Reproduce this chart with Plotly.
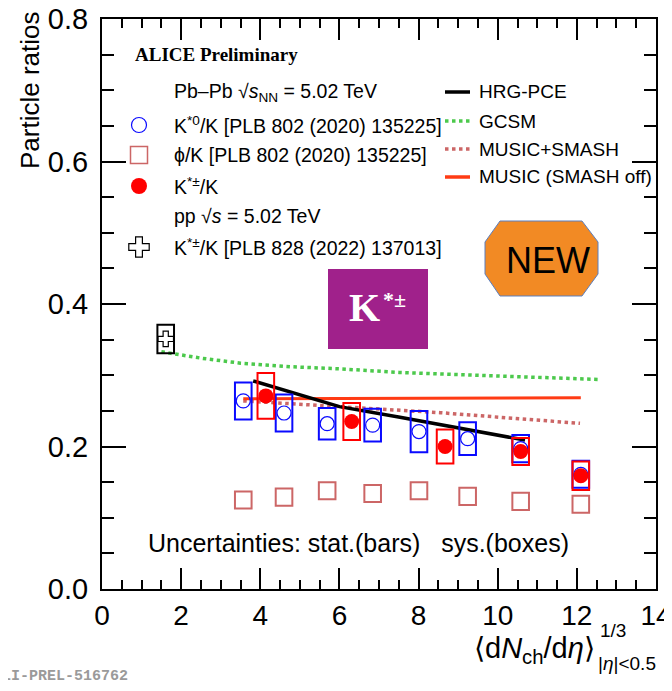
import plotly.graph_objects as go

# ---------------- data ----------------
cent_x = [3.57, 4.60, 5.69, 6.84, 8.01, 9.24, 10.58, 12.10]
kstar0_y = [0.264, 0.247, 0.232, 0.230, 0.221, 0.211, 0.197, 0.161]
kstar0_sys = [0.026, 0.026, 0.022, 0.023, 0.029, 0.023, 0.019, 0.019]

phi_y = [0.125, 0.129, 0.138, 0.134, 0.138, 0.130, 0.123, 0.119]
phi_sys = [0.012, 0.012, 0.012, 0.012, 0.012, 0.012, 0.012, 0.012]

kpm_x = [4.14, 6.31, 8.67, 10.58, 12.10]
kpm_y = [0.271, 0.235, 0.200, 0.193, 0.159]
kpm_sys = [0.032, 0.026, 0.024, 0.019, 0.020]

pp_x = [1.61]
pp_y = [0.351]
pp_sys = [0.020]

hrg_x = [3.82, 5.0, 6.0, 7.53, 9.21, 10.69]
hrg_y = [0.292, 0.272, 0.256, 0.241, 0.2245, 0.209]

gcsm_x = [1.5, 2.5, 3.5, 4.75, 6.0, 7.5, 10.0, 12.58]
gcsm_y = [0.333, 0.324, 0.317, 0.312, 0.309, 0.304, 0.299, 0.294]

msmash_x = [3.57, 6.01, 7.53, 8.54, 10.06, 12.08]
msmash_y = [0.264, 0.256, 0.251, 0.2475, 0.241, 0.2325]

moff_x = [3.57, 12.10]
moff_y = [0.267, 0.2685]

BOX_HW = 0.21  # half width of systematic boxes (x units)

# ---------------- styling ----------------
BLUE = "#0a0aff"
RED = "#ff0000"
PINK = "#cc6666"
GREEN = "#4cc94c"
ORANGE_RED = "#ff3b14"
FONT = "Liberation Sans, Arial, sans-serif"

OFF = 8  # page body margin offset
W, H = 672 - OFF, 691 - OFF
# plot frame in page pixels
PL, PR, PT, PB = 102, 656, 19, 589
L, R, T, B = PL - OFF, PR - OFF, PT - OFF, PB - OFF


def px(x):  # page pixel -> paper fraction
    return (x - PL) / (PR - PL)


def py(y):
    return (PB - y) / (PB - PT)


fig = go.Figure()

# models
fig.add_trace(go.Scatter(x=gcsm_x, y=gcsm_y, mode="lines", line=dict(color=GREEN, width=3.5, dash="3.5px,3.5px"), showlegend=False))
fig.add_trace(go.Scatter(x=msmash_x, y=msmash_y, mode="lines", line=dict(color=PINK, width=3.5, dash="3.5px,3.5px"), showlegend=False))
fig.add_trace(go.Scatter(x=moff_x, y=moff_y, mode="lines", line=dict(color=ORANGE_RED, width=3), showlegend=False))
fig.add_trace(go.Scatter(x=hrg_x, y=hrg_y, mode="lines", line=dict(color="black", width=3.5), showlegend=False))

# systematic boxes
shapes = []


def add_boxes(xs, ys, ss, color, width=2):
    for x, y, s in zip(xs, ys, ss):
        shapes.append(dict(type="rect", xref="x", yref="y", x0=x - BOX_HW, x1=x + BOX_HW,
                           y0=y - s, y1=y + s, line=dict(color=color, width=width),
                           fillcolor="rgba(0,0,0,0)", layer="above"))


add_boxes(cent_x, phi_y, phi_sys, PINK)
add_boxes(cent_x, kstar0_y, kstar0_sys, BLUE)
add_boxes(kpm_x, kpm_y, kpm_sys, RED)
add_boxes(pp_x, pp_y, pp_sys, "black")

# points
fig.add_trace(go.Scatter(x=cent_x, y=kstar0_y, mode="markers",
                         marker=dict(symbol="circle-open", size=14, color=BLUE, line=dict(width=1.2)), showlegend=False))
fig.add_trace(go.Scatter(x=kpm_x, y=kpm_y, mode="markers",
                         marker=dict(symbol="circle", size=15, color=RED), showlegend=False))
fig.add_trace(go.Scatter(x=pp_x, y=pp_y, mode="markers",
                         marker=dict(symbol="cross-open", size=13, color="black", line=dict(width=1.2)), showlegend=False))

# legend symbols on an overlay axis in [0,1]
leg_x = px(139)
fig.add_trace(go.Scatter(x=[leg_x], y=[py(125)], xaxis="x2", yaxis="y2", mode="markers",
                         marker=dict(symbol="circle-open", size=15, color=BLUE, line=dict(width=1.2)), showlegend=False))
fig.add_trace(go.Scatter(x=[leg_x], y=[py(155)], xaxis="x2", yaxis="y2", mode="markers",
                         marker=dict(symbol="square-open", size=17, color=PINK, line=dict(width=1.5)), showlegend=False))
fig.add_trace(go.Scatter(x=[leg_x], y=[py(186)], xaxis="x2", yaxis="y2", mode="markers",
                         marker=dict(symbol="circle", size=16, color=RED), showlegend=False))
fig.add_trace(go.Scatter(x=[leg_x], y=[py(247)], xaxis="x2", yaxis="y2", mode="markers",
                         marker=dict(symbol="cross-open", size=17, color="black", line=dict(width=1.2)), showlegend=False))

right_items = [
    ("HRG-PCE", 92, dict(color="black", width=3.5)),
    ("GCSM", 121, dict(color=GREEN, width=3.5, dash="3.5px,3.5px")),
    ("MUSIC+SMASH", 149, dict(color=PINK, width=3.5, dash="3.5px,3.5px")),
    ("MUSIC (SMASH off)", 177, dict(color=ORANGE_RED, width=3.5)),
]
annotations = []
for label, yy, ln in right_items:
    fig.add_trace(go.Scatter(x=[px(445), px(470)], y=[py(yy), py(yy)], xaxis="x2", yaxis="y2",
                             mode="lines", line=ln, showlegend=False))
    annotations.append(dict(x=px(477), y=py(yy), xref="paper", yref="paper", text=label,
                            showarrow=False, xanchor="left", yanchor="middle",
                            font=dict(family=FONT, size=19, color="black")))

left_items = [
    ("Pb–Pb √<i>s</i><sub>NN</sub> = 5.02 TeV", 93),
    ("K<sup>*0</sup>/K [PLB 802 (2020) 135225]", 125),
    ("ϕ/K [PLB 802 (2020) 135225]", 155),
    ("K<sup>*±</sup>/K", 186),
    ("pp √<i>s</i> = 5.02 TeV", 216),
    ("K<sup>*±</sup>/K [PLB 828 (2022) 137013]", 247),
]
for label, yy in left_items:
    annotations.append(dict(x=px(172), y=py(yy), xref="paper", yref="paper", text=label,
                            showarrow=False, xanchor="left", yanchor="middle",
                            font=dict(family=FONT, size=19.5, color="black")))

annotations.append(dict(x=px(133), y=py(55), xref="paper", yref="paper", text="<b>ALICE Preliminary</b>",
                        showarrow=False, xanchor="left", yanchor="middle",
                        font=dict(family="Liberation Serif, Times New Roman, serif", size=19, color="black")))

annotations.append(dict(x=px(358), y=py(543), xref="paper", yref="paper",
                        text="Uncertainties: stat.(bars)   sys.(boxes)",
                        showarrow=False, xanchor="center", yanchor="middle",
                        font=dict(family=FONT, size=25, color="black")))

# purple K*± badge
shapes.append(dict(type="rect", xref="paper", yref="paper", x0=px(328), x1=px(428), y0=py(349), y1=py(269),
                   fillcolor="#a0218b", line=dict(width=0), layer="above"))
annotations.append(dict(x=px(364), y=py(307), xref="paper", yref="paper", text="<b>K</b>",
                        showarrow=False, xanchor="center", yanchor="middle",
                        font=dict(family="Liberation Serif, Times New Roman, serif", size=40, color="white")))
annotations.append(dict(x=px(394), y=py(299), xref="paper", yref="paper", text="<b>*±</b>",
                        showarrow=False, xanchor="center", yanchor="middle",
                        font=dict(family="Liberation Serif, Times New Roman, serif", size=22, color="white")))

# NEW octagon
oct_pts = [(500, 221), (582, 221), (598, 242), (598, 274), (582, 296), (500, 296), (485, 274), (485, 242)]
path = "M " + " L ".join(f"{px(a):.5f},{py(b):.5f}" for a, b in oct_pts) + " Z"
shapes.append(dict(type="path", xref="paper", yref="paper", path=path, fillcolor="#f28a24",
                   line=dict(color="#5b7fbf", width=1), layer="above"))
annotations.append(dict(x=px(548), y=py(260), xref="paper", yref="paper", text="NEW",
                        showarrow=False, xanchor="center", yanchor="middle",
                        font=dict(family=FONT, size=36, color="black")))

# axis titles
annotations.append(dict(x=px(30), y=py(90), xref="paper", yref="paper", text="Particle ratios",
                        showarrow=False, textangle=-90, xanchor="center", yanchor="middle",
                        font=dict(family=FONT, size=26, color="black")))
annotations.append(dict(x=px(597), y=py(650), xref="paper", yref="paper",
                        text="⟨d<i>N</i><sub>ch</sub>/d<i>η</i>⟩",
                        showarrow=False, xanchor="right", yanchor="middle",
                        font=dict(family=FONT, size=29, color="black")))
annotations.append(dict(x=px(598), y=py(630), xref="paper", yref="paper", text="1/3",
                        showarrow=False, xanchor="left", yanchor="middle",
                        font=dict(family=FONT, size=19, color="black")))
annotations.append(dict(x=px(596), y=py(663), xref="paper", yref="paper", text="|<i>η</i>|&lt;0.5",
                        showarrow=False, xanchor="left", yanchor="middle",
                        font=dict(family=FONT, size=19, color="black")))

annotations.append(dict(x=px(130), y=py(676), xref="paper", yref="paper", text="<b>ALI-PREL-516762</b>",
                        showarrow=False, xanchor="right", yanchor="middle",
                        font=dict(family="Liberation Mono, Courier New, monospace", size=15, color="#9a9a9a")))

fig.update_layout(
    width=W, height=H,
    margin=dict(l=L, r=W - R, t=T, b=H - B, pad=0, autoexpand=False),
    paper_bgcolor="white", plot_bgcolor="white",
    showlegend=False,
    shapes=shapes, annotations=annotations,
    xaxis=dict(range=[0, 14], dtick=2, tick0=0, ticks="inside", ticklen=21, tickwidth=1.5, tickcolor="black",
               showline=True, linewidth=2, linecolor="black", mirror="allticks", showgrid=False, zeroline=False,
               automargin=False, ticklabeloverflow="allow",
               tickfont=dict(family=FONT, size=28, color="black"), ticklabelstandoff=0,
               minor=dict(ticks="inside", ticklen=9, dtick=0.5, tickwidth=1.5, tickcolor="black", showgrid=False)),
    yaxis=dict(range=[0, 0.8], dtick=0.2, tick0=0, ticks="inside", ticklen=24, tickwidth=1.5, tickcolor="black",
               showline=True, linewidth=2, linecolor="black", mirror="allticks", showgrid=False, zeroline=False,
               automargin=False, ticklabeloverflow="allow",
               tickformat=".1f", tickfont=dict(family=FONT, size=29, color="black"), ticklabelstandoff=6,
               minor=dict(ticks="inside", ticklen=12, dtick=0.05, tickwidth=1.5, tickcolor="black", showgrid=False)),
    xaxis2=dict(range=[0, 1], overlaying="x", visible=False, fixedrange=True, automargin=False),
    yaxis2=dict(range=[0, 1], overlaying="y", visible=False, fixedrange=True, automargin=False),
)

fig.write_html("out.html")
